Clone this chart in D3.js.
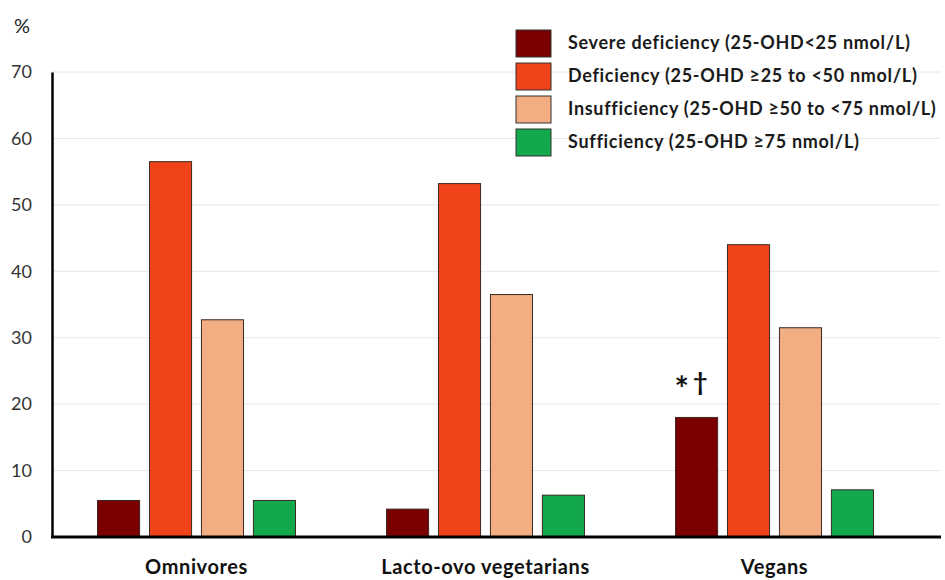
<!DOCTYPE html>
<html>
<head>
<meta charset="utf-8">
<script src="https://cdn.jsdelivr.net/npm/d3@7"></script>
<style>
  body { margin: 0; background: #fff; }
  text { font-family: Lato, "Open Sans", sans-serif; }
</style>
</head>
<body>
<div id="chart"></div>
<script>
// Data
const groups = ["Omnivores", "Lacto-ovo vegetarians", "Vegans"];
const series = ["Severe deficiency (25-OHD<25 nmol/L)",
                "Deficiency (25-OHD \u226525 to <50 nmol/L)",
                "Insufficiency (25-OHD \u226550 to <75 nmol/L)",
                "Sufficiency (25-OHD \u226575 nmol/L)"];
const severe = [5.5, 4.2, 18.0];
const deficiency = [56.5, 53.2, 44.0];
const insufficiency = [32.7, 36.5, 31.5];
const sufficiency = [5.5, 6.3, 7.1];
const yTicks = [0, 10, 20, 30, 40, 50, 60, 70];
const colors = ["#7a0000", "#f0431a", "#f2ad82", "#12a84b"];

const values = [severe, deficiency, insufficiency, sufficiency];

const width = 945, height = 580;
const plotLeft = 52, plotRight = 919, plotTop = 72, plotBottom = 537;

const svg = d3.select("#chart").append("svg")
    .attr("width", width)
    .attr("height", height);

const y = d3.scaleLinear().domain([0, 70]).range([plotBottom, plotTop]);
const x0 = d3.scaleBand().domain(groups).range([plotLeft, plotRight])
    .paddingInner(0.315).paddingOuter(0.1575);
const x1 = d3.scaleBand().domain(d3.range(series.length))
    .range([0, x0.bandwidth()]).paddingInner(0.19);

// gridlines
svg.append("g")
    .selectAll("line")
    .data(yTicks.slice(1))
    .join("line")
    .attr("x1", plotLeft).attr("x2", 940)
    .attr("y1", d => y(d)).attr("y2", d => y(d))
    .style("stroke", "#e6e6e6")
    .style("stroke-width", 1);

// y axis
const yAxis = svg.append("g")
    .attr("transform", `translate(${plotLeft},0)`)
    .call(d3.axisLeft(y).tickValues(yTicks).tickSize(0).tickPadding(20));
yAxis.select(".domain").style("stroke", "#000").style("stroke-width", 2.5);
yAxis.selectAll("text")
    .style("font-size", "18px")
    .style("fill", "#333")
    .attr("font-family", "Lato, sans-serif");

// bars
const g = svg.append("g");
groups.forEach((grp, gi) => {
  values.forEach((vals, si) => {
    g.append("rect")
      .attr("x", x0(grp) + x1(si))
      .attr("y", y(vals[gi]))
      .attr("width", x1.bandwidth())
      .attr("height", y(0) - y(vals[gi]))
      .style("fill", colors[si])
      .style("stroke", "#3a2a22")
      .style("stroke-width", 1);
  });
});

// baseline
svg.append("line")
    .attr("x1", plotLeft - 1).attr("x2", 941)
    .attr("y1", y(0)).attr("y2", y(0))
    .style("stroke", "#000")
    .style("stroke-width", 3);

// category labels
svg.append("g")
    .selectAll("text")
    .data(groups)
    .join("text")
    .attr("x", d => x0(d) + x0.bandwidth() / 2)
    .attr("y", 574)
    .attr("text-anchor", "middle")
    .style("font-size", "20px")
    .style("font-weight", "bold")
    .style("letter-spacing", "0.6px")
    .style("fill", "#111")
    .text(d => d);

// significance marker above vegans severe bar
const mark = svg.append("text")
    .attr("x", x0("Vegans") + x1(0) - 1)
    .attr("y", y(severe[2]) - 26)
    .style("fill", "#111");
mark.append("tspan")
    .attr("dy", 10)
    .style("font-size", "34px")
    .style("font-weight", "bold")
    .text("*");
mark.append("tspan")
    .attr("dx", 4)
    .attr("dy", -10)
    .style("font-size", "25px")
    .style("font-weight", "bold")
    .text("\u2020");

// % label
svg.append("text")
    .attr("x", 14).attr("y", 33)
    .style("font-size", "20px")
    .style("fill", "#222")
    .text("%");

// legend
const legend = svg.append("g").attr("transform", "translate(516,30)");
series.forEach((s, i) => {
  const row = legend.append("g").attr("transform", `translate(0,${i * 33})`);
  row.append("rect")
    .attr("width", 35).attr("height", 27)
    .style("fill", colors[i])
    .style("stroke", "#333")
    .style("stroke-width", 1);
  row.append("text")
    .attr("x", 52).attr("y", 19)
    .style("font-size", "18px")
    .style("font-weight", "bold")
    .style("letter-spacing", "0.7px")
    .style("fill", "#1a1a1a")
    .text(s);
});
</script>
</body>
</html>
